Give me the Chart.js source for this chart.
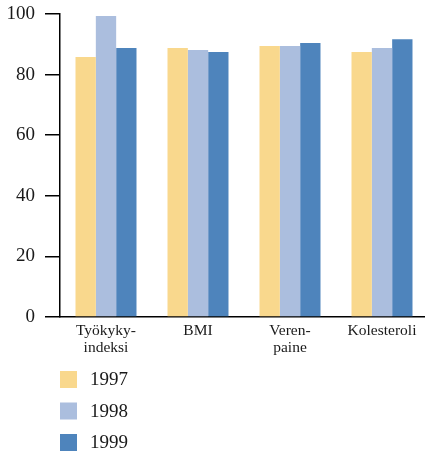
<!DOCTYPE html>
<html>
<head>
<meta charset="utf-8">
<script src="https://cdn.jsdelivr.net/npm/chart.js@4/dist/chart.umd.min.js"></script>
<style>
  html, body { margin: 0; padding: 0; background: #fff; overflow: hidden; }
  canvas { display: block; }
</style>
</head>
<body>
<canvas id="c" width="428" height="453"></canvas>
<script>
// Categories (two-line labels) and yearly values
const categories = [["Työkyky-", "indeksi"], ["BMI"], ["Veren-", "paine"], ["Kolesteroli"]];
const years = ["1997", "1998", "1999"];
const values1997 = [85.8, 88.8, 89.4, 87.5];
const values1998 = [99.3, 88.1, 89.4, 88.8];
const values1999 = [88.8, 87.5, 90.4, 91.7];
const yTicks = [0, 20, 40, 60, 80, 100];

const colors = ["#F9D88D", "#ABBEDE", "#4E84BC"];
const serif = "'Liberation Serif', 'Times New Roman', serif";

// Vertical legend drawn below the axis
const stackedLegend = {
  id: "stackedLegend",
  afterDraw(chart) {
    const ctx = chart.ctx;
    ctx.save();
    ctx.font = "19px " + serif;
    ctx.textBaseline = "middle";
    ctx.textAlign = "left";
    chart.data.datasets.forEach((ds, i) => {
      const y = 371 + i * 31.5;
      ctx.fillStyle = ds.backgroundColor;
      ctx.fillRect(60, y, 17, 17);
      ctx.fillStyle = "#1a1a1a";
      ctx.fillText(ds.label, 90, y + 9.5);
    });
    ctx.restore();
  }
};

new Chart(document.getElementById("c"), {
  type: "bar",
  data: {
    labels: categories,
    datasets: [
      { label: years[0], data: values1997, backgroundColor: colors[0] },
      { label: years[1], data: values1998, backgroundColor: colors[1] },
      { label: years[2], data: values1999, backgroundColor: colors[2] }
    ]
  },
  options: {
    responsive: false,
    animation: false,
    layout: { padding: { top: 14, right: 0, bottom: 0, left: 0 } },
    datasets: { bar: { categoryPercentage: 0.663, barPercentage: 1.0 } },
    plugins: { legend: { display: false }, tooltip: { enabled: false } },
    scales: {
      x: {
        grid: { display: false, drawTicks: false },
        border: { display: true, color: "#000", width: 1.5 },
        ticks: { color: "#1a1a1a", font: { family: serif, size: 15.5, lineHeight: 1.1 }, padding: 5, maxRotation: 0, autoSkip: false },
        afterFit(scale) { scale.height = 136; scale.paddingLeft = 0; scale.paddingRight = 0; }
      },
      y: {
        min: 0,
        max: 100,
        afterBuildTicks(scale) { scale.ticks = yTicks.map(v => ({ value: v })); },
        grid: { drawOnChartArea: false, drawTicks: true, tickLength: 15, color: "#000", lineWidth: 1.5 },
        border: { display: true, color: "#000", width: 1.5 },
        ticks: { color: "#1a1a1a", font: { family: serif, size: 19 }, padding: 10 },
        afterFit(scale) { scale.width = 60; scale.paddingTop = 0; scale.paddingBottom = 0; }
      }
    }
  },
  plugins: [stackedLegend]
});
</script>
</body>
</html>
